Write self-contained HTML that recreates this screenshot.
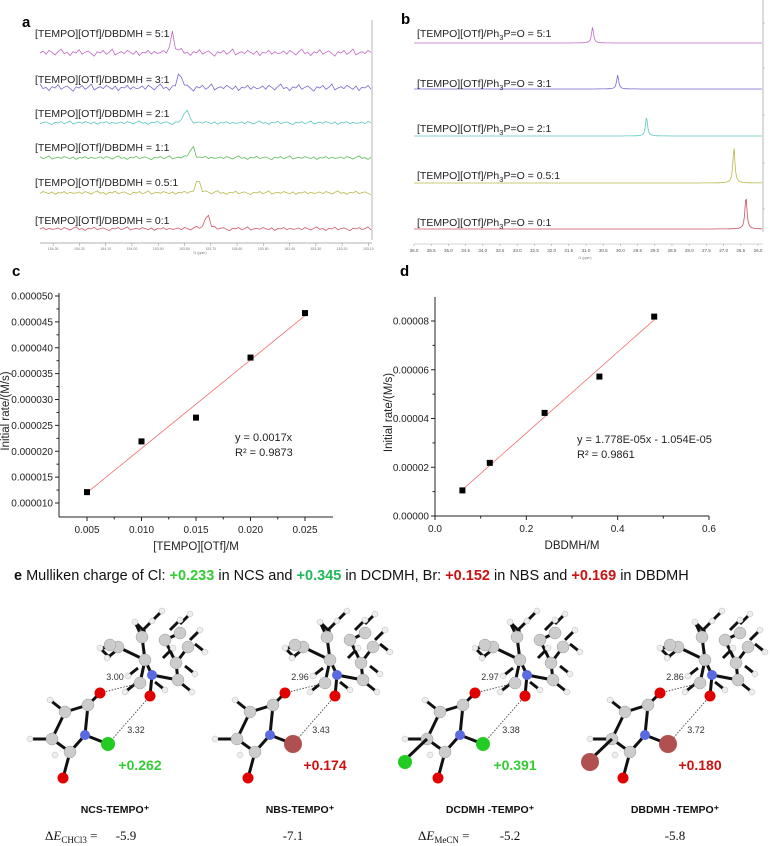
<!DOCTYPE html>
<html><head><meta charset="utf-8">
<style>
body{margin:0;background:#fff;}
svg{display:block;font-family:"Liberation Sans",sans-serif;}
</style></head>
<body>
<svg id="fig" width="770" height="846" viewBox="0 0 770 846" xmlns="http://www.w3.org/2000/svg">
<g id="pa"></g>
<g id="pb"></g>
<g id="pc"></g>
<g id="pd"></g>
<g id="pe"></g>
</svg>
<script>
// ---- data ----
const aLabels = ["[TEMPO][OTf]/DBDMH = 5:1","[TEMPO][OTf]/DBDMH = 3:1","[TEMPO][OTf]/DBDMH = 2:1","[TEMPO][OTf]/DBDMH = 1:1","[TEMPO][OTf]/DBDMH = 0.5:1","[TEMPO][OTf]/DBDMH = 0:1"];
const aPeakPpm = [153.844, 153.817, 153.794, 153.771, 153.749, 153.714];
const aPeakHeight = [24, 23, 23, 19, 22, 25];
const aColors = ["#c46ac8","#7a6ad0","#5cc8c0","#5cbf5c","#b8b84a","#d05a6a"];
const aTicks = ["154.30","154.20","154.10","154.00","153.90","153.80","153.70","153.60","153.50","153.40","153.30","153.20","153.10"];
const bLabels = ["5:1","3:1","2:1","0.5:1","0:1"];
const bPeakPpm = [30.81, 30.08, 29.24, 26.70, 26.35];
const bPeakHeight = [16, 14, 19, 36, 33];
const bColors = ["#c46ac8","#7a6ad0","#5cc8c0","#b8b84a","#c85060"];
const bTicks = ["36.0","35.5","35.0","34.5","34.0","33.5","33.0","32.5","32.0","31.5","31.0","30.5","30.0","29.5","29.0","28.5","28.0","27.5","27.0","26.5","26.0"];
const noise = [0,1.5,-1,2,0.5,-1.5,1,3,-0.5,0.5,-2,1,0,2.5,-1,0.5,1.5,-0.5,-2.5,1,0,2,-1,0.5,3,-1.5,0,1,-0.5,2,0.5,-1,1.5,-2,0.5,0,2,-1,1,-0.5];
const cX = [0.005,0.010,0.015,0.020,0.025];
const cY = [0.0000121,0.0000219,0.0000265,0.0000381,0.0000467];
const cYTicks = ["0.000010","0.000015","0.000020","0.000025","0.000030","0.000035","0.000040","0.000045","0.000050"];
const cXTicks = ["0.005","0.010","0.015","0.020","0.025"];
const cFitEnds = [0.0000120, 0.0000462];
const dX = [0.06,0.12,0.24,0.36,0.48];
const dY = [0.0000105,0.0000218,0.0000423,0.0000572,0.0000818];
const dYTicks = ["0.00000","0.00002","0.00004","0.00006","0.00008"];
const dXTicks = ["0.0","0.2","0.4","0.6"];
const dFitEnds = [0.0000108, 0.0000805];

const NS="http://www.w3.org/2000/svg";
function el(parent,tag,attrs,text){const e=document.createElementNS(NS,tag);for(const k in attrs)e.setAttribute(k,attrs[k]);if(text!==undefined)e.textContent=text;parent.appendChild(e);return e;}

// ---- panel a ----
(function(){
 const g=document.getElementById('pa');
 const t=el(g,'text',{x:22,y:27,'font-size':15,'font-weight':'bold'},'a');
 
 
 const x0=40,x1=371,p0=154.35,p1=153.09;
 const px=v=>x0+(p0-v)/(p0-p1)*(x1-x0);
 const bases=[53,88,123,158,193,229];
 const labY=[37,83,117,151,186,224];
 aLabels.forEach((lab,i)=>{
  let d='';
  for(let k=0;k<=110;k++){
   const x=x0+k*(x1-x0)/110;
   const v=p0-(x-x0)/(x1-x0)*(p0-p1);
   const dist=(v-aPeakPpm[i])/0.008;
   const amp=i<2?1.3:0.7;
   const y=bases[i]-noise[(k+i*7)%noise.length]*amp-aPeakHeight[i]/(1+dist*dist*2);
   d+=(k?'L':'M')+x.toFixed(1)+' '+y.toFixed(1);
  }
  const p=el(g,'path',{d:d,fill:'none',stroke:aColors[i],'stroke-width':0.8});
  
  
  const tx=el(g,'text',{x:35,y:labY[i],'font-size':10.5,fill:'#222'},lab);
  
  
 });
 el(g,'line',{x1:372,y1:20,x2:372,y2:240,stroke:'#999','stroke-width':0.7});
 el(g,'line',{x1:40,y1:243,x2:372,y2:243,stroke:'#999','stroke-width':0.7});
 aTicks.forEach((s,i)=>{const x=px(parseFloat(s));el(g,'line',{x1:x,y1:243,x2:x,y2:246,stroke:'#999','stroke-width':0.6});el(g,'text',{x:x,y:250,'font-size':3.5,'text-anchor':'middle',fill:'#777'},s);});
 el(g,'text',{x:200,y:254,'font-size':3.5,'text-anchor':'middle',fill:'#777'},'f1 (ppm)');
})();

// ---- panel b ----
(function(){
 const g=document.getElementById('pb');
 const t=el(g,'text',{x:401,y:24,'font-size':15,'font-weight':'bold'},'b');
 
 
 const x0=414,x1=762,p0=36.0,p1=26.0,xe=758;
 const px=v=>x0+(p0-v)/(p0-p1)*(xe-x0);
 const bases=[43,89,136,183,229];
 const labY=[37,87,132,179,226];
 bLabels.forEach((lab,i)=>{
  let d='';
  for(let k=0;k<=400;k++){
   const x=x0+k*(x1-x0)/400;
   const v=p0-(x-x0)/(xe-x0)*(p0-p1);
   const dist=(v-bPeakPpm[i])/0.035;
   const y=bases[i]-bPeakHeight[i]/(1+dist*dist);
   d+=(k?'L':'M')+x.toFixed(1)+' '+y.toFixed(1);
  }
  const p=el(g,'path',{d:d,fill:'none',stroke:bColors[i],'stroke-width':0.8});
  
  
  const tx=el(g,'text',{x:417,y:labY[i],'font-size':10.5,fill:'#222'});
  
  
  el(tx,'tspan',{},'[TEMPO][OTf]/Ph');
  el(tx,'tspan',{'font-size':7.5,dy:3},'3');
  el(tx,'tspan',{dy:-3},'P=O = '+lab);
 });
 el(g,'line',{x1:763,y1:0,x2:763,y2:232,stroke:'#999','stroke-width':0.7});
 [209,163,115,68,23].forEach(y=>{el(g,'line',{x1:763,y1:y,x2:765,y2:y,stroke:'#999','stroke-width':0.5});});
 el(g,'line',{x1:414,y1:244,x2:763,y2:244,stroke:'#aaa','stroke-width':0.5});
 bTicks.forEach(s=>{const x=px(parseFloat(s));el(g,'line',{x1:x,y1:244,x2:x,y2:246,stroke:'#999','stroke-width':0.5});el(g,'text',{x:x,y:252,'font-size':4.5,'text-anchor':'middle',fill:'#555'},s);});
 el(g,'text',{x:585,y:259,'font-size':3.5,'text-anchor':'middle',fill:'#777'},'f1 (ppm)');
})();

// ---- scatter charts ----
function scatter(gid,letter,lx,ax,xs,ys,xticks,yticks,fitEnds,eq,eqx,eqy,xtitle){
 const g=document.getElementById(gid);
 const t=el(g,'text',{x:lx,y:276,'font-size':15,'font-weight':'bold'},letter);
 
 
 const X=v=>ax.x0+(v-ax.xa)/(ax.xb-ax.xa)*(ax.x1-ax.x0);
 const Y=v=>ax.y0-(v-ax.ya)/(ax.yb-ax.ya)*(ax.y0-ax.y1);
 el(g,'line',{x1:ax.left,y1:ax.bottom,x2:ax.right,y2:ax.bottom,stroke:'#222','stroke-width':1});
 el(g,'line',{x1:ax.left,y1:ax.top,x2:ax.left,y2:ax.bottom,stroke:'#222','stroke-width':1});
 xticks.forEach((s,i)=>{const v=parseFloat(s);const x=X(v);
  el(g,'line',{x1:x,y1:ax.bottom,x2:x,y2:ax.bottom+4,stroke:'#222'});
  const tt=el(g,'text',{x:x,y:ax.bottom+16,'font-size':10,'text-anchor':'middle',fill:'#222'},s);
  
  if(i<xticks.length-1){const m=X(v+(parseFloat(xticks[1])-parseFloat(xticks[0]))/2);el(g,'line',{x1:m,y1:ax.bottom,x2:m,y2:ax.bottom+2.5,stroke:'#222'});}
 });
 yticks.forEach((s,i)=>{const v=parseFloat(s);const y=Y(v);
  el(g,'line',{x1:ax.left,y1:y,x2:ax.left-4,y2:y,stroke:'#222'});
  const tt=el(g,'text',{x:ax.left-6,y:y+3.5,'font-size':10,'text-anchor':'end',fill:'#222'},s);
  
  if(i<yticks.length-1){const m=Y(v+(parseFloat(yticks[1])-parseFloat(yticks[0]))/2);el(g,'line',{x1:ax.left,y1:m,x2:ax.left-2.5,y2:m,stroke:'#222'});}
 });
 const fl=el(g,'line',{x1:X(xs[0]),y1:Y(fitEnds[0]),x2:X(xs[xs.length-1]),y2:Y(fitEnds[1]),stroke:'#f07070','stroke-width':0.8});
 
 
 xs.forEach((v,i)=>{
  const r=el(g,'rect',{x:X(v)-3,y:Y(ys[i])-3,width:6,height:6,fill:'#000'});
  
  
 });
 const e1=el(g,'text',{x:eqx,y:eqy,'font-size':11,fill:'#222'},eq);
 
 const xt=el(g,'text',{x:(ax.left+ax.right)/2,y:ax.bottom+33,'font-size':11.5,'text-anchor':'middle',fill:'#222'},xtitle);
 
 const yt=el(g,'text',{x:0,y:0,'font-size':11.5,'text-anchor':'middle',fill:'#222',transform:'translate('+(ax.ytx)+','+((ax.top+ax.bottom)/2+6)+') rotate(-90)'},'Initial rate/(M/s)');
 
 return g;
}
const gc=scatter('pc','c',12,{x0:87,x1:305,xa:0.005,xb:0.025,y0:503,y1:296,ya:0.00001,yb:0.00005,left:59,right:333,top:293,bottom:517,ytx:9},
 cX,cY,cXTicks,cYTicks,cFitEnds,'y = 0.0017x',235,441,'[TEMPO][OTf]/M');
el(gc,'text',{x:235,y:456,'font-size':11,fill:'#222'},'R² = 0.9873');
const gd=scatter('pd','d',400,{x0:435,x1:709,xa:0,xb:0.6,y0:516,y1:321,ya:0,yb:0.00008,left:435,right:709,top:297,bottom:516,ytx:392},
 dX,dY,dXTicks,dYTicks,dFitEnds,'y = 1.778E-05x - 1.054E-05',577,443,'DBDMH/M');
el(gd,'text',{x:577,y:458,'font-size':11,fill:'#222'},'R² = 0.9861');

// ---- panel e ----
(function(){
 const g=document.getElementById('pe');
 const title=el(g,'text',{x:14,y:580,'font-size':14.5,fill:'#111'});
 
 
 const parts=[['e ','#111',1],['Mulliken charge of Cl: ','#111',0],['+0.233','#33cc33',1],[' in NCS and ','#111',0],['+0.345','#1fb85a',1],[' in DCDMH, Br: ','#111',0],['+0.152','#cc1111',1],[' in NBS and ','#111',0],['+0.169','#cc1111',1],[' in DBDMH','#111',0]];
 parts.forEach(p=>el(title,'tspan',{fill:p[1],'font-weight':p[2]?'bold':'normal'},p[0]));
 const names=['NCS-TEMPO⁺','NBS-TEMPO⁺','DCDMH -TEMPO⁺','DBDMH -TEMPO⁺'];
 const charges=['+0.262','+0.174','+0.391','+0.180'];
 const cCol=['#33cc33','#cc1111','#33cc33','#cc1111'];
 const hal=['#22cc22','#b05050','#22cc22','#b05050'];
 const d1=['3.00','2.96','2.97','2.86'],d2=['3.32','3.43','3.38','3.72'];
 const offs=[0,185,375,560];
 const tempoC=[[145,660],[118,647],[142,637],[165,640],[180,633],[188,647],[176,663],[178,680],[140,683],[110,645]];
 const tempoH=[[162,611],[190,614],[135,622],[100,648],[107,658],[180,620],[200,630],[205,652],[195,674],[192,692],[165,690],[125,692],[128,676],[152,621],[173,648]];
 const succC=[[88,705],[65,712],[52,739],[70,752]];
 const succH=[[50,700],[30,739],[55,755]];
 offs.forEach((ox,i)=>{
  const m=el(g,'g',{transform:'translate('+ox+',0)'});
  
  
  const bonds=[[152,675,145,660],[152,675,178,680],[145,660,118,647],[145,660,142,637],[176,663,178,680],[176,663,188,647],[165,640,176,663],[165,640,180,633],[145,660,140,683],[142,637,135,622],[118,647,100,648],[152,675,150,696],
   [100,693,88,705],[88,705,65,712],[65,712,52,739],[52,739,70,752],[70,752,63,778],[70,752,85,735],[85,735,88,705],[85,735,108,744],[52,739,30,739],[65,712,50,700]];
  tempoH.forEach(h=>{bonds.push([h[0],h[1],h[0]<150?h[0]+10:h[0]-10,h[1]<650?h[1]+10:h[1]-8]);});
  bonds.forEach(b=>el(m,'line',{x1:b[0],y1:b[1],x2:b[2],y2:b[3],stroke:'#111','stroke-width':3}));
  el(m,'line',{x1:100,y1:693,x2:140,y2:683,stroke:'#555','stroke-width':1,'stroke-dasharray':'1.5,1.5'});
  el(m,'line',{x1:150,y1:696,x2:108,y2:744,stroke:'#555','stroke-width':1,'stroke-dasharray':'1.5,1.5'});
  tempoH.concat(succH).forEach(h=>el(m,'circle',{cx:h[0],cy:h[1],r:3,fill:'#eee',stroke:'#bbb','stroke-width':0.5}));
  tempoC.concat(succC).forEach(c=>el(m,'circle',{cx:c[0],cy:c[1],r:6,fill:'#ccc',stroke:'#999','stroke-width':0.5}));
  [[100,693],[150,696],[63,778]].forEach(o=>el(m,'circle',{cx:o[0],cy:o[1],r:5.5,fill:'#e00000'}));
  [[152,675],[85,735]].forEach(n=>el(m,'circle',{cx:n[0],cy:n[1],r:5,fill:'#5a6ae0'}));
  el(m,'circle',{cx:108,cy:744,r:i%2?9:7,fill:hal[i]});
  if(i>=2){el(m,'line',{x1:52,y1:739,x2:30,y2:760,stroke:'#111','stroke-width':3});el(m,'circle',{cx:30,cy:762,r:i==3?9:7,fill:hal[i]});}
  el(m,'text',{x:115,y:680,'font-size':9,'text-anchor':'middle',fill:'#333'},d1[i]);
  el(m,'text',{x:136,y:733,'font-size':9,'text-anchor':'middle',fill:'#333'},d2[i]);
  const ch=el(m,'text',{x:140,y:770,'font-size':14,'font-weight':'bold','text-anchor':'middle',fill:cCol[i]},charges[i]);
  
  const nm=el(m,'text',{x:115,y:813,'font-size':10.5,'font-weight':'bold','text-anchor':'middle',fill:'#111'},names[i]);
  
 });
 const es=[['-5.9',126],['-7.1',293],['-5.2',510],['-5.8',675]];
 es.forEach((e,i)=>{const t=el(g,'text',{x:e[1],y:840,'font-size':13,'font-family':'Liberation Serif','text-anchor':'middle',fill:'#111'},e[0]);
  });
 [['CHCl3',45],['MeCN',418]].forEach(s=>{const t=el(g,'text',{x:s[1],y:840,'font-size':13,'font-family':'Liberation Serif',fill:'#111'});
  
  el(t,'tspan',{},'Δ');el(t,'tspan',{'font-style':'italic'},'E');el(t,'tspan',{'font-size':9,dy:3},s[0]);el(t,'tspan',{dy:-3},' = ');});
})();
</script>
</body></html>
